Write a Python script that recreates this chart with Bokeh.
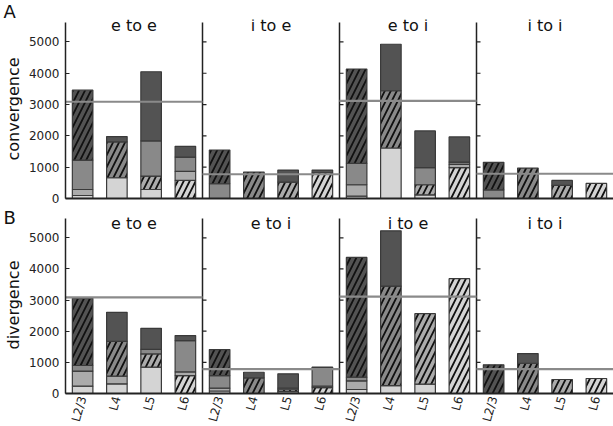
from bokeh.plotting import figure
from bokeh.models import ColumnDataSource, FixedTicker, Range1d, Label
from bokeh.layouts import column
from bokeh.embed import file_html
from bokeh.resources import INLINE

# ---------------- data ----------------
layers = ["L2/3", "L4", "L5", "L6"]
conv_panels = ["e to e", "i to e", "e to i", "i to i"]
div_panels = ["e to e", "e to i", "i to e", "i to i"]
y_ticks = [0, 1000, 2000, 3000, 4000, 5000]

# contribution of each source layer to each target bar (4 panels x 4 target layers)
conv_L23 = [2232, 172, 2211, 343, 1077, 0, 385, 84, 3013, 1486, 1173, 802, 876, 0, 160, 0]
conv_L4 = [940, 1142, 1122, 459, 471, 843, 0, 0, 683, 1828, 545, 74, 278, 972, 0, 0]
conv_L5 = [192, 0, 427, 288, 0, 0, 522, 0, 365, 0, 321, 106, 0, 0, 417, 0]
conv_L6 = [96, 663, 288, 577, 0, 0, 0, 823, 74, 1612, 118, 984, 0, 0, 0, 481]
conv_ref = [3090, 775, 3120, 790]

div_L23 = [2155, 930, 674, 160, 833, 180, 461, 20, 3846, 1773, 0, 0, 920, 311, 0, 0]
div_L4 = [180, 1121, 148, 1005, 407, 503, 50, 590, 117, 3195, 0, 0, 0, 971, 0, 0]
div_L5 = [486, 245, 428, 117, 90, 0, 60, 44, 278, 0, 2266, 0, 0, 0, 449, 0]
div_L6 = [234, 310, 844, 577, 80, 0, 60, 190, 128, 256, 298, 3686, 0, 0, 0, 481]
div_ref = [3090, 780, 3110, 782]

layer_colors = ["#535353", "#898989", "#ababab", "#d4d4d4"]

FONT = "'DejaVu Sans'"
Y_MAX = 5620          # top of the drawn axes
FRAME_W = 548
AXIS_COLOR = "#222222"


def make_row(panels, series, refs, ylabel, letter, show_x, axis_px, extra_top,
             top_b, bottom_b, letter_standoff, title_drop):
    n = len(panels) * len(layers)
    px_y = Y_MAX / axis_px           # data units per pixel (y)
    px_x = n / FRAME_W               # data units per pixel (x)
    frame_h = axis_px + extra_top
    y_top = Y_MAX + extra_top * px_y

    xs, bottoms, tops, colors, hatches = [], [], [], [], []
    for j in range(n):
        target = j % len(layers)
        base = 0
        for s in [3, 2, 1, 0]:  # stack L6 at bottom ... L2/3 on top
            v = series[s][j]
            if v > 0:
                xs.append(j)
                bottoms.append(base)
                tops.append(base + v)
                colors.append(layer_colors[s])
                hatches.append("/" if s == target else " ")
            base += v
    src = ColumnDataSource(dict(x=xs, bottom=bottoms, top=tops, color=colors, hatch=hatches))

    p = figure(frame_width=FRAME_W, frame_height=frame_h,
               x_range=Range1d(-0.5, n - 0.5), y_range=Range1d(0, y_top),
               output_backend="svg", toolbar_location=None, title=letter,
               min_border_left=64, min_border_right=0,
               min_border_top=top_b, min_border_bottom=bottom_b)
    p.outline_line_color = None
    p.xgrid.visible = False
    p.ygrid.visible = False
    p.background_fill_color = "white"
    p.border_fill_color = "white"

    # panel letter as the figure title
    p.title.align = "left"
    p.title.offset = -62
    p.title.standoff = letter_standoff
    p.title.vertical_align = "bottom"
    p.title.text_font = FONT
    p.title.text_font_size = "18px"
    p.title.text_font_style = "normal"
    p.title.text_color = "#111111"

    p.vbar(x="x", bottom="bottom", top="top", width=0.6, source=src,
           fill_color="color", line_color="#3a3a3a", line_width=1.2,
           hatch_pattern="hatch", hatch_color="#111111", hatch_scale=12,
           hatch_weight=1.8)

    # panel separators acting as inner y axes
    npan = len(panels)
    sep_x = [4 * k - 0.5 for k in range(1, npan)]
    p.segment(x0=sep_x, y0=[0] * len(sep_x), x1=sep_x, y1=[Y_MAX] * len(sep_x),
              line_color=AXIS_COLOR, line_width=1.5)
    tx0, tx1, ty = [], [], []
    for bx in sep_x:
        for t in y_ticks[1:]:
            tx0.append(bx)
            tx1.append(bx + 4 * px_x)
            ty.append(t)
    p.segment(x0=tx0, y0=ty, x1=tx1, y1=ty, line_color=AXIS_COLOR, line_width=1.2)

    # reference lines
    rx0 = [4 * k - 0.5 for k in range(npan)]
    rx1 = [4 * k + 3.5 for k in range(npan)]
    p.segment(x0=rx0, y0=refs, x1=rx1, y1=refs, line_color="#8a8a8a", line_width=2.2)

    # panel titles
    for k, name in enumerate(panels):
        p.add_layout(Label(x=4 * k + 1.5, y=Y_MAX - title_drop * px_y, text=name,
                           text_align="center", text_baseline="middle",
                           text_font=FONT, text_font_size="16px", text_color="#111111"))

    # y axis
    ya = p.yaxis[0]
    ya.ticker = FixedTicker(ticks=y_ticks)
    ya.bounds = (0, Y_MAX)
    ya.major_tick_in = 4
    ya.major_tick_out = 0
    ya.minor_tick_in = 0
    ya.minor_tick_out = 0
    ya.axis_line_color = AXIS_COLOR
    ya.axis_line_width = 1.5
    ya.major_tick_line_color = AXIS_COLOR
    ya.major_label_text_font = FONT
    ya.major_label_text_font_size = "12px"
    ya.major_label_text_color = "#222222"
    ya.major_label_standoff = 6
    ya.axis_label = ylabel
    ya.axis_label_text_font = FONT
    ya.axis_label_text_font_size = "16px"
    ya.axis_label_text_font_style = "normal"
    ya.axis_label_text_color = "#111111"
    ya.axis_label_standoff = 3

    # x axis
    xa = p.xaxis[0]
    xa.major_tick_in = 0
    xa.major_tick_out = 0
    xa.minor_tick_in = 0
    xa.minor_tick_out = 0
    xa.axis_line_color = AXIS_COLOR
    xa.axis_line_width = 2
    xa.major_label_text_font = FONT
    xa.major_label_text_color = "#222222"
    if show_x:
        xa.ticker = FixedTicker(ticks=list(range(n)))
        xa.major_label_overrides = {j: layers[j % 4] for j in range(n)}
        xa.major_label_text_font_size = "12px"
        xa.major_label_orientation = 1.3
        xa.major_label_standoff = 3
    else:
        xa.ticker = FixedTicker(ticks=[])
        xa.major_label_standoff = 0
    return p


pA = make_row(conv_panels, [conv_L23, conv_L4, conv_L5, conv_L6], conv_ref,
              "convergence", "A", False, 176, 3, 19, 8, -4, 3)
pB = make_row(div_panels, [div_L23, div_L4, div_L5, div_L6], div_ref,
              "divergence", "B", True, 175, 2, 10, 2, -22, 4.5)

layout = column(pA, pB, spacing=0)
open("out.html", "w").write(file_html(layout, INLINE))
